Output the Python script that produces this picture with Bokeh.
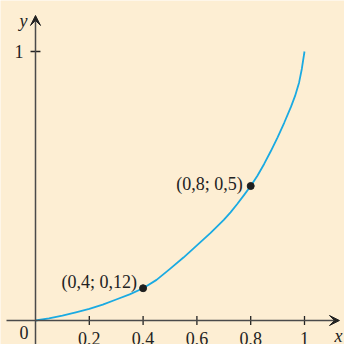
from bokeh.plotting import figure
from bokeh.models import Range1d, Arrow, VeeHead, ColumnDataSource
from bokeh.core.properties import value
from bokeh.embed import file_html
from bokeh.resources import INLINE

curve_x = [0, 0.05, 0.1, 0.15, 0.2, 0.25, 0.3, 0.35, 0.4, 0.45, 0.5, 0.55,
           0.6, 0.65, 0.7, 0.725, 0.75, 0.775, 0.8, 0.825, 0.85, 0.875, 0.9,
           0.925, 0.95, 0.965, 0.98, 0.99, 1.0]
curve_y = [0, 0.008, 0.018, 0.03, 0.043, 0.059, 0.078, 0.097, 0.12, 0.151, 0.192, 0.234,
           0.279, 0.325, 0.374, 0.402, 0.433, 0.466, 0.5, 0.538, 0.582, 0.63, 0.681,
           0.736, 0.795, 0.835, 0.885, 0.935, 1.0]
point_x = [0.4, 0.8]
point_y = [0.12, 0.5]
point_labels = ["(0,4; 0,12)", "(0,8; 0,5)"]
xtick_values = [0.2, 0.4, 0.6, 0.8, 1.0]
xtick_labels = ["0,2", "0,4", "0,6", "0,8", "1"]
ytick_values = [1.0]
ytick_labels = ["1"]

BG = "#FDEED3"
AX = "#4a4a4a"
FONT = value("Liberation Serif")

unit = 269.0
W = H = 344
x0_px, y0_px = 35, 320
p = figure(width=W, height=H, output_backend="svg", toolbar_location=None,
           x_range=Range1d(-x0_px / unit, (W - x0_px) / unit),
           y_range=Range1d(-(H - y0_px) / unit, y0_px / unit),
           x_axis_type=None, y_axis_type=None, min_border=0,
           background_fill_color=BG, border_fill_color=BG, outline_line_color=None)
p.grid.visible = False

xr, yr = p.x_range, p.y_range
# axes with arrows
p.add_layout(Arrow(end=VeeHead(size=10, fill_color="#222222", line_color="#222222"),
                   x_start=-29 / unit, y_start=0, x_end=1.13, y_end=0,
                   line_color=AX, line_width=1.5))
p.add_layout(Arrow(end=VeeHead(size=10, fill_color="#222222", line_color="#222222"),
                   x_start=0, y_start=yr.start, x_end=0, y_end=1.134,
                   line_color=AX, line_width=1.5))

# ticks
tk = 4.5 / unit
p.segment(x0=xtick_values, x1=xtick_values, y0=[-tk] * len(xtick_values),
          y1=[tk] * len(xtick_values), line_color="#222222", line_width=1.3)
p.segment(x0=[-tk * 1.1] * len(ytick_values), x1=[tk * 1.1] * len(ytick_values),
          y0=ytick_values, y1=ytick_values, line_color="#222222", line_width=1.3)

p.text(x=xtick_values, y=[0] * len(xtick_values), text=xtick_labels,
       text_font=FONT, text_font_size="18px", text_color="#222222",
       text_align="center", text_baseline="top", y_offset=11)
p.text(x=[0] * len(ytick_values), y=ytick_values, text=ytick_labels,
       text_font=FONT, text_font_size="18px", text_color="#222222",
       text_align="right", text_baseline="middle", x_offset=-12)
p.text(x=[0], y=[0], text=["0"], text_font=FONT, text_font_size="18px",
       text_color="#222222", text_align="right", text_baseline="top",
       x_offset=-7, y_offset=5)
p.text(x=[0], y=[1.134], text=["y"], text_font=FONT, text_font_size="18px",
       text_font_style="italic", text_color="#222222", text_align="right",
       text_baseline="top", x_offset=-8, y_offset=-4)
p.text(x=[1.13], y=[0], text=["x"], text_font=FONT, text_font_size="18px",
       text_font_style="italic", text_color="#222222", text_align="center",
       text_baseline="top", x_offset=-1, y_offset=5)

# curve
p.line(curve_x, curve_y, line_color="#1AAAE2", line_width=1.8, line_join="round")

# points and labels
src = ColumnDataSource(dict(x=point_x, y=point_y, t=point_labels,
                            xo=[-6, -8], yo=[-6, -2]))
p.scatter("x", "y", source=src, size=7, fill_color="#1e1e1e", line_color="#1e1e1e")
p.text("x", "y", text="t", source=src, x_offset="xo", y_offset="yo",
       text_font=FONT, text_font_size="18px", text_color="#222222",
       text_align="right", text_baseline="alphabetic")

open("out.html", "w").write(file_html(p, INLINE))
